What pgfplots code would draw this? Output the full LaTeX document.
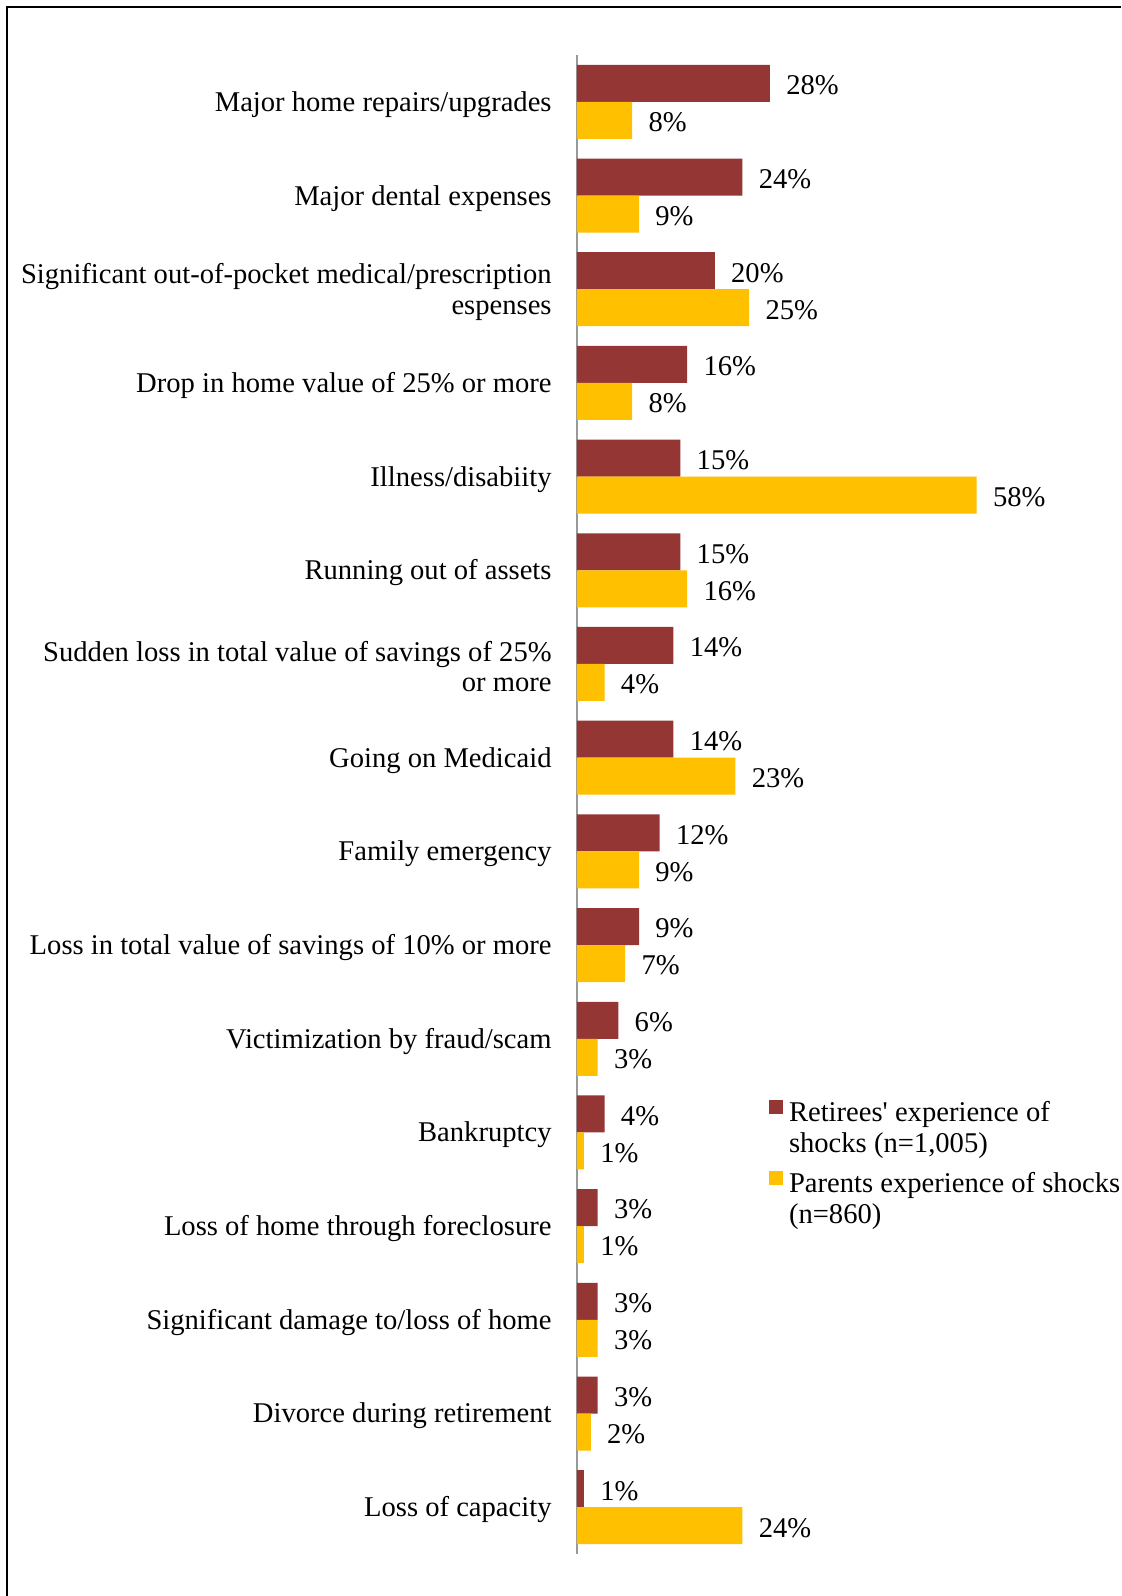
\documentclass[border=0pt]{standalone}
\usepackage{fontspec}
\setmainfont{Liberation Serif}
\usepackage{pgfplots}
\pgfplotsset{compat=1.18}
\definecolor{retc}{HTML}{943634}
\definecolor{parc}{HTML}{FFC000}
\begin{document}
\begin{tikzpicture}
\useasboundingbox[fill=white] (0,0) rectangle (560.5pt,-798pt);
\draw[line width=1.3pt] (3.5pt,-798pt) -- (3.5pt,-3.5pt) -- (560.5pt,-3.5pt);
\begin{axis}[
  at={(288.5pt,-27.5pt)}, anchor=north west,
  scale only axis, width=206.7pt, height=749.5pt,
  xbar, bar width=18.5pt,
  xmin=0, xmax=60, ymin=-0.5, ymax=15.5, y dir=reverse,
  axis x line=none, axis y line*=left,
  y axis line style={draw=gray!80, line width=0.6pt},
  ytick={0,...,15},
  yticklabels={
    Major home repairs/upgrades,
    Major dental expenses,
    {Significant out-of-pocket medical/prescription\\espenses},
    Drop in home value of 25\% or more,
    Illness/disabiity,
    Running out of assets,
    {Sudden loss in total value of savings of 25\%\\or more},
    Going on Medicaid,
    Family emergency,
    Loss in total value of savings of 10\% or more,
    Victimization by fraud/scam,
    Bankruptcy,
    Loss of home through foreclosure,
    Significant damage to/loss of home,
    Divorce during retirement,
    Loss of capacity},
  major tick length=0pt,
  yticklabel style={font=\fontsize{14.3}{15.3}\selectfont, align=right, inner sep=0pt, xshift=-12.5pt, yshift=-1.3pt},
  clip=false,
  point meta=x,
  nodes near coords={\pgfmathprintnumber{\pgfplotspointmeta}\%},
  every node near coord/.append style={font=\fontsize{14.3}{15.3}\selectfont, inner sep=0pt, xshift=8pt, yshift=-1pt, text=black, /pgf/number format/assume math mode=true},
  legend image code/.code={\fill[#1,draw=none] (0pt,-1pt) rectangle (7pt,6pt);},
  legend style={at={(axis cs:27.87,10.65)}, anchor=north west, draw=none, fill=none, inner sep=0pt, outer sep=0pt, row sep=23pt,
    nodes={inner sep=0pt, outer sep=0pt}, column sep=3pt, font=\fontsize{14.3}{15.5}\selectfont},
  legend cell align=left,
]
\addplot[fill=retc, draw=none, bar shift=9.25pt] coordinates {
  (28,0) (24,1) (20,2) (16,3) (15,4) (15,5) (14,6) (14,7)
  (12,8) (9,9) (6,10) (4,11) (3,12) (3,13) (3,14) (1,15)};
\addlegendentry{\begin{tabular}[t]{@{}l@{}}Retirees\textquotesingle{} experience of\\shocks (n=1,005)\end{tabular}}
\addplot[fill=parc, draw=none, bar shift=-9.25pt] coordinates {
  (8,0) (9,1) (25,2) (8,3) (58,4) (16,5) (4,6) (23,7)
  (9,8) (7,9) (3,10) (1,11) (1,12) (3,13) (2,14) (24,15)};
\addlegendentry{\begin{tabular}[t]{@{}l@{}}Parents experience of shocks\\(n=860)\end{tabular}}
\end{axis}
\end{tikzpicture}
\end{document}
